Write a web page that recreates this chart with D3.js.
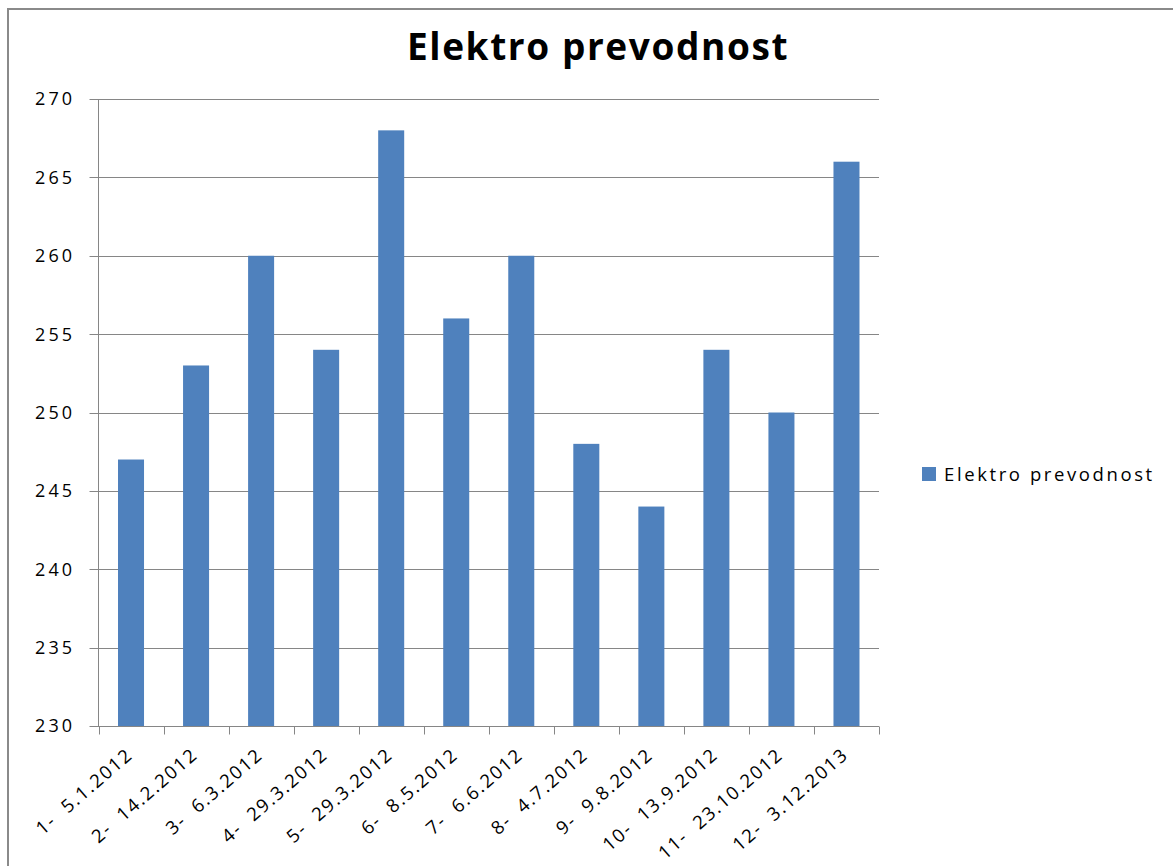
<!DOCTYPE html>
<html>
<head>
<meta charset="utf-8">
<script src="https://cdn.jsdelivr.net/npm/d3@7"></script>
<style>
  body { margin: 0; background: #fff; }
  svg text { font-family: "Open Sans", sans-serif; fill: #000; white-space: pre; }
</style>
</head>
<body>
<div id="chart"></div>
<script>
const title = "Elektro prevodnost";
const categories = [
  "1-  5.1.2012", "2-  14.2.2012", "3-  6.3.2012", "4-  29.3.2012",
  "5-  29.3.2012", "6-  8.5.2012", "7-  6.6.2012", "8-  4.7.2012",
  "9-  9.8.2012", "10-  13.9.2012", "11-  23.10.2012", "12-  3.12.2013"
];
const values = [247, 253, 260, 254, 268, 256, 260, 248, 244, 254, 250, 266];
const yTicks = [230, 235, 240, 245, 250, 255, 260, 265, 270];

const width = 1173, height = 866;
const margin = { top: 99, left: 98.5, right: 294, bottom: 140 };
const gridColor = "#868686";
const barColor = "#4f81bd";

const svg = d3.select("#chart")
    .append("svg")
    .attr("width", width)
    .attr("height", height);

svg.append("rect")
    .attr("width", width).attr("height", height)
    .attr("fill", "#fff");

// chart frame (only top and left edges are inside the picture)
svg.append("rect")
    .attr("x", 8).attr("y", 9)
    .attr("width", width + 20).attr("height", height + 20)
    .attr("fill", "none")
    .attr("stroke", "#8a8a8a")
    .attr("stroke-width", 2);

const x = d3.scaleBand()
    .domain(categories)
    .range([margin.left, width - margin.right]);

const y = d3.scaleLinear()
    .domain([230, 270])
    .range([height - margin.bottom, margin.top]);

// gridlines
svg.append("g")
    .selectAll("line")
    .data(yTicks)
    .join("line")
    .attr("x1", margin.left - 9)
    .attr("x2", width - margin.right)
    .attr("y1", d => Math.round(y(d)) + 0.5)
    .attr("y2", d => Math.round(y(d)) + 0.5)
    .attr("stroke", gridColor);

// y labels
svg.append("g")
    .selectAll("text")
    .data(yTicks)
    .join("text")
    .attr("x", 75)
    .attr("y", d => y(d))
    .attr("dy", "0.36em")
    .attr("text-anchor", "end")
    .style("font-size", "18px")
    .style("letter-spacing", "3px")
    .attr("fill", "#1a1a1a")
    .text(d => d);

// bars
const barW = x.bandwidth() / 2.5;
svg.append("g")
    .selectAll("rect")
    .data(values)
    .join("rect")
    .attr("x", (d, i) => x(categories[i]) + (x.bandwidth() - barW) / 2)
    .attr("width", barW)
    .attr("y", d => y(d))
    .attr("height", d => y(230) - y(d))
    .attr("fill", barColor);

// y axis line
svg.append("line")
    .attr("x1", margin.left).attr("x2", margin.left)
    .attr("y1", margin.top).attr("y2", y(230))
    .attr("stroke", gridColor);

// x axis with ticks at category boundaries
const xAxisY = Math.round(y(230)) + 0.5;
svg.append("line")
    .attr("x1", margin.left).attr("x2", width - margin.right)
    .attr("y1", xAxisY).attr("y2", xAxisY)
    .attr("stroke", gridColor);

const boundaries = categories.map(c => x(c)).concat([x.range()[1]]);
svg.append("g")
    .selectAll("line")
    .data(boundaries)
    .join("line")
    .attr("x1", d => Math.round(d) + 0.5)
    .attr("x2", d => Math.round(d) + 0.5)
    .attr("y1", xAxisY)
    .attr("y2", xAxisY + 8)
    .attr("stroke", gridColor);

// x labels, rotated (picture is a bit stretched sideways, so ~41deg)
svg.append("g")
    .selectAll("text")
    .data(categories)
    .join("text")
    .attr("text-anchor", "end")
    .attr("transform", d => `translate(${x(d) + x.bandwidth() / 2 + 3},${xAxisY + 30}) rotate(-41)`)
    .style("font-size", "18.5px")
    .style("letter-spacing", "1.8px")
    .attr("fill", "#1a1a1a")
    .text(d => d);

// title
svg.append("text")
    .attr("x", 598)
    .attr("y", 60)
    .attr("text-anchor", "middle")
    .style("font-size", "37px")
    .style("font-weight", "bold")
    .style("letter-spacing", "1.6px")
    .text(title);

// legend
const legend = svg.append("g").attr("transform", "translate(922,467)");
legend.append("rect")
    .attr("width", 14).attr("height", 14)
    .attr("fill", barColor);
legend.append("text")
    .attr("x", 22)
    .attr("y", 7)
    .attr("dy", "0.36em")
    .style("font-size", "18.5px")
    .style("letter-spacing", "2.6px")
    .attr("fill", "#1a1a1a")
    .text(title);
</script>
</body>
</html>
